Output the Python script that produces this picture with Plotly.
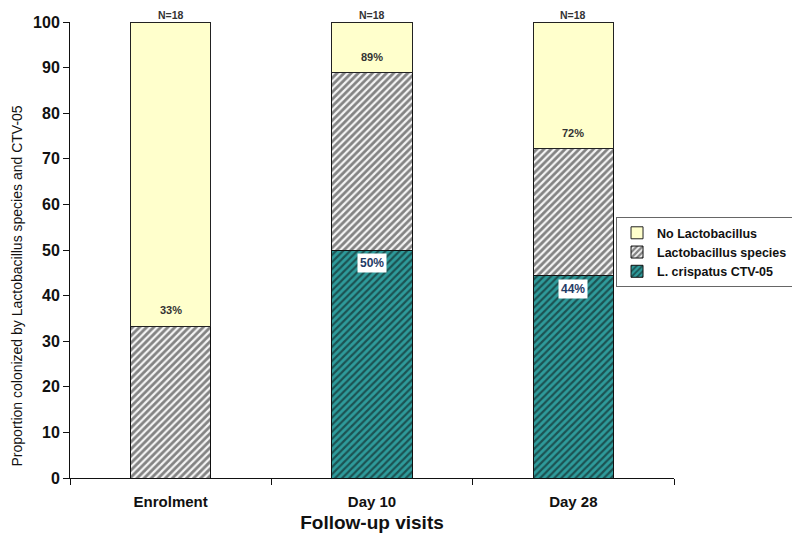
import plotly.graph_objects as go

categories = ["Enrolment", "Day 10", "Day 28"]
crispatus = [0.0, 50.0, 44.4]
lacto_species = [33.3, 38.9, 27.8]
no_lacto = [66.7, 11.1, 27.8]
n_labels = ["N=18", "N=18", "N=18"]
total_labels = ["33%", "89%", "72%"]
crispatus_labels = ["", "50%", "44%"]

FONT = "Liberation Sans, Arial, sans-serif"
fig = go.Figure()

fig.add_trace(go.Bar(
    x=categories, y=crispatus, name="L. crispatus CTV-05", width=0.4,
    marker=dict(color="#2E9B9B", line=dict(color="#111111", width=1),
                pattern=dict(shape="/", fgcolor="#0A0A0A", bgcolor="#2E9B9B", size=5, solidity=0.45)),
))
fig.add_trace(go.Bar(
    x=categories, y=lacto_species, name="Lactobacillus species", width=0.4,
    marker=dict(color="#FFFFFF", line=dict(color="#111111", width=1),
                pattern=dict(shape="/", fgcolor="#111111", bgcolor="#F4F4F4", size=5, solidity=0.55)),
))
fig.add_trace(go.Bar(
    x=categories, y=no_lacto, name="No Lactobacillus", width=0.4,
    marker=dict(color="#FFFFCC", line=dict(color="#222222", width=1)),
))

annotations = []
for i, c in enumerate(categories):
    top = crispatus[i] + lacto_species[i] + no_lacto[i]
    annotations.append(dict(x=c, y=top, text=n_labels[i], showarrow=False, yanchor="bottom",
                            yshift=0, borderpad=0,
                            font=dict(family=FONT, size=10.5, color="#333333", weight="bold")))
    cum = crispatus[i] + lacto_species[i]
    annotations.append(dict(x=c, y=cum, text=total_labels[i], showarrow=False, yanchor="bottom",
                            yshift=8, font=dict(family=FONT, size=11, color="#333333", weight="bold")))
    if crispatus_labels[i]:
        annotations.append(dict(x=c, y=crispatus[i], text=crispatus_labels[i], showarrow=False,
                                yanchor="top", yshift=-3, bgcolor="#FFFFFF", borderpad=2,
                                font=dict(family=FONT, size=12, color="#1F3B66", weight="bold")))

annotations.append(dict(
    xref="paper", yref="paper", x=-0.087, y=0.421, xanchor="center", yanchor="middle",
    textangle=-90, showarrow=False,
    text="Proportion colonized by Lactobacillus species and CTV-05",
    font=dict(family=FONT, size=14, color="#111111"),
))

fig.update_layout(
    barmode="stack",
    width=800, height=548,
    margin=dict(l=62, r=134, t=14, b=78),
    plot_bgcolor="#FFFFFF", paper_bgcolor="#FFFFFF",
    font=dict(family=FONT, color="#111111"),
    showlegend=True,
    legend=dict(x=0.904, y=0.572, xanchor="left", yanchor="top", traceorder="reversed",
                bgcolor="#FFFFFF", bordercolor="#666666", borderwidth=1,
                font=dict(family=FONT, size=12.5, color="#111111", weight="bold"),
                itemwidth=30, tracegroupgap=0),
    annotations=annotations,
)
fig.update_xaxes(
    automargin=False,
    showline=True, linecolor="#111111", linewidth=1, ticks="outside", tickson="boundaries",
    ticklen=6, tickcolor="#111111", showgrid=False, ticklabelstandoff=10,
    tickfont=dict(family=FONT, size=15, color="#111111", weight="bold"),
    title=dict(text="Follow-up visits", font=dict(family=FONT, size=19, color="#111111", weight="bold"), standoff=6),
)
fig.update_yaxes(
    automargin=False,
    range=[0, 100], dtick=10, showline=True, linecolor="#111111", linewidth=1,
    ticks="outside", ticklen=6, tickcolor="#111111", showgrid=False, zeroline=False,
    tickfont=dict(family=FONT, size=16, color="#111111", weight="bold"),
)

fig.write_html("out.html")
